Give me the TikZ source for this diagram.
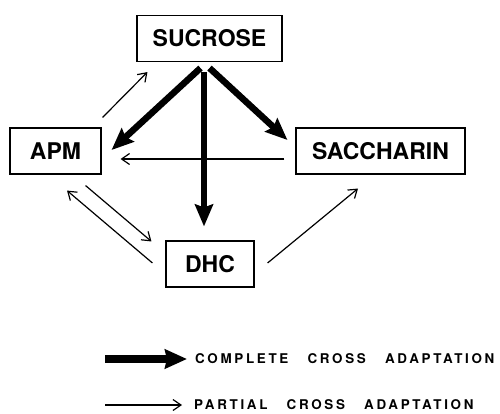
\documentclass[tikz,border=0pt]{standalone}
\usepackage{fontspec}
\setmainfont{TeX Gyre Heros}
\newfontfamily\keyfont[LetterSpace=20, WordSpace=3]{TeX Gyre Heros}
\usetikzlibrary{arrows.meta, positioning}
\tikzset{
	sweet/.style={rectangle, draw=black, line width=1.1pt, inner sep=0pt, align=center, minimum height=46pt, font=\fontsize{23}{26}\selectfont\bfseries},
	fullarrow/.style={-{Stealth[length=22pt, width=18pt, inset=3pt]}, line width=6.5pt, draw=black},
	partarrow/.style={-{Straight Barb[length=8pt, width=11pt, line width=1.2pt]}, line width=1.2pt, draw=black},
	legtext/.style={anchor=west, inner sep=0pt, font=\keyfont\fontsize{13.4}{15}\selectfont\bfseries},
}

\begin{document}
\begin{tikzpicture}[x=1pt, y=-1pt]
		\useasboundingbox (0,0) rectangle (500,414);
		\node[sweet, minimum width=145pt] (sucrose) at (209.5,38.5) {SUCROSE};
		\node[sweet, minimum width=91pt] (apm) at (55.5,151) {APM};
		\node[sweet, minimum width=169pt] (sacch) at (380.5,151) {SACCHARIN};
		\node[sweet, minimum width=88pt] (dhc) at (210,264) {DHC};
		% complete
		\draw[fullarrow] ([xshift=-9pt, yshift=-6pt]sucrose.south) -- ([xshift=10pt, yshift=1pt]apm.east);
		\draw[fullarrow] ([xshift=0pt, yshift=-6pt]sucrose.south) -- ([xshift=-8pt, yshift=11pt]sacch.west);
		\draw[fullarrow] ([xshift=-5.5pt, yshift=-10pt]sucrose.south) -- ([xshift=-6pt, yshift=14pt]dhc.north);
		% partial
		\draw[partarrow] ([xshift=1pt, yshift=10pt]apm.north east) -- ([xshift=11pt, yshift=-10pt]sucrose.south west);
		\draw[partarrow] ([xshift=-11pt, yshift=-8pt]sacch.west) -- ([xshift=19pt, yshift=-8pt]apm.east);
		\draw[partarrow] ([xshift=-16pt, yshift=-11pt]apm.south east) -- ([xshift=-14pt, yshift=-1pt]dhc.north west);
		\draw[partarrow] ([xshift=-13pt, yshift=1pt]dhc.west) -- ([xshift=11.5pt, yshift=-16pt]apm.south);
		\draw[partarrow] ([xshift=13pt, yshift=1pt]dhc.east) -- ([xshift=-22.5pt, yshift=-14pt]sacch.south);
		% legend
		\coordinate (fullkey) at (105,359);
		\coordinate (partkey) at (105,405);
		\node[legtext, right=90pt of fullkey] (fulltext) {COMPLETE CROSS ADAPTATION};
		\node[legtext, right=89pt of partkey] (parttext) {PARTIAL CROSS ADAPTATION};
		\draw[fullarrow, line width=8pt, -{Stealth[length=22pt, width=19pt, inset=2pt]}] (fullkey) -- ([xshift=-8pt]fulltext.west);
		\draw[partarrow] (partkey) -- ([xshift=-12pt]parttext.west);
	\end{tikzpicture}
\end{document}
